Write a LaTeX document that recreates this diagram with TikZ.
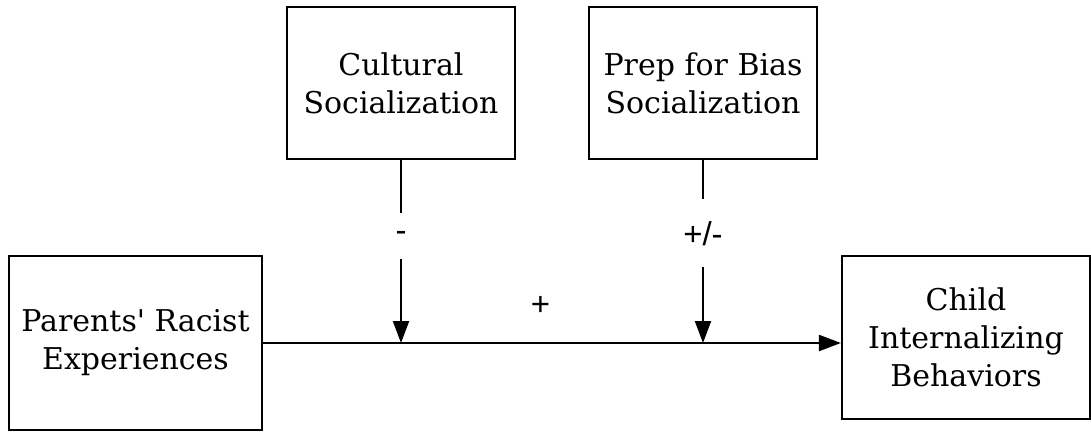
\documentclass[tikz,border=0pt]{standalone}
\usepackage{fontspec}
\setmainfont{DejaVu Serif}
\newfontfamily\signfont{Liberation Sans}
\usetikzlibrary{arrows.meta}
\usetikzlibrary{positioning}
\tikzstyle{varbox}=[draw, line width=2.2pt, align=center, inner sep=0, font=\fontsize{30}{38}\selectfont]
\tikzstyle{sign}=[font=\signfont\fontsize{33}{33}\selectfont, inner xsep=4pt]
\tikzstyle{arr}=[line width=2.2pt, -{Triangle[length=22pt,width=16pt]}]
\newcommand{\varnode}[5]{\node[varbox, minimum width=#3, minimum height=#4] (#1) at (#2) {#5};}
\begin{document}
\begin{tikzpicture}[x=1pt,y=-1pt]
\useasboundingbox (0,0) rectangle (1091,431);
\varnode{par}{135.5, 343}{253pt}{174pt}{Parents\textquotesingle{} Racist\\Experiences}
\varnode{cult}{401, 83}{228pt}{152pt}{Cultural\\Socialization}
\varnode{prep}{703, 83}{228pt}{152pt}{Prep for Bias\\Socialization}
\varnode{child}{966, 337.5}{248pt}{163pt}{Child\\Internalizing\\Behaviors}

\draw[arr] (par.east) -- node[sign, above=23pt, pos=.48] (plus) {+} (par.east -| child.west);
\draw[arr] (cult.south) -- node[sign, fill=white, inner ysep=18pt, pos=.415] (minus) {-} (cult.south |- par.east);
\draw[arr] (prep.south) -- node[sign, fill=white, inner ysep=22pt, pos=.4] (pm) {+/-} (prep.south |- par.east);
\end{tikzpicture}
\end{document}
